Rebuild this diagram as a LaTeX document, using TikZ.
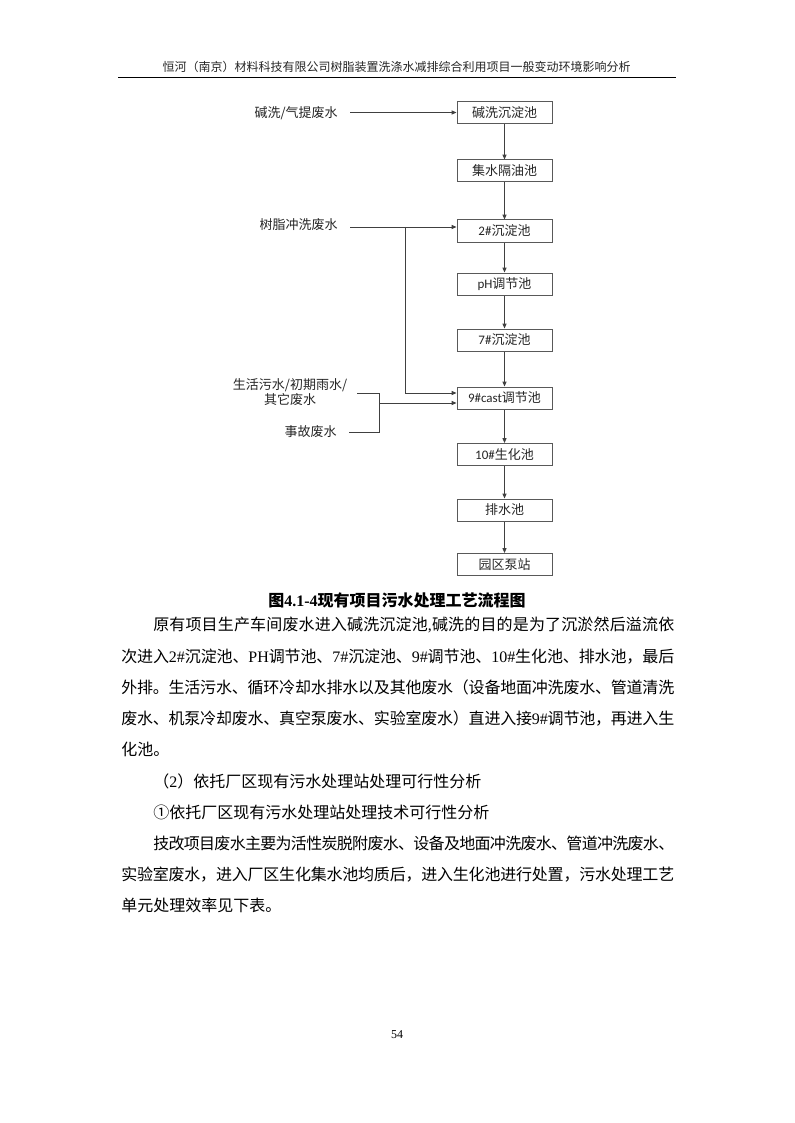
\documentclass[tikz,border=0pt]{standalone}
\usepackage{fontspec}
\setmainfont{Liberation Serif}
\newfontfamily\cjk{Noto Sans CJK SC}
\newfontfamily\calfont{Carlito}
\newcommand\lat{\rmfamily}
\usetikzlibrary{arrows.meta}
\makeatletter
\def\jst#1#2{\hbox to #1{\jst@first#2\jst@end}}
\def\jst@end{\jst@end}
\def\jst@first#1{\ifx\jst@end#1\else{#1}\expandafter\jst@next\fi}
\def\jst@next#1{\ifx\jst@end#1\else\hskip 0pt plus 1fil minus 1fil{#1}\expandafter\jst@next\fi}
\makeatother
\begin{document}
\begin{tikzpicture}[x=0.75pt,y=-0.75pt,
  pool/.style={draw=black!65, line width=0.75pt, minimum width=71.25pt, minimum height=16.5pt, inner sep=0pt, font=\cjk\fontsize{9.75}{11}\selectfont, text=black!85},
  lab/.style={inner sep=0pt, font=\cjk\fontsize{9.75}{11.25}\selectfont, text=black!85},
  flow/.style={draw=black!75, line width=0.6pt, -{Triangle[length=3.6pt,width=3pt]}},
  wire/.style={draw=black!75, line width=0.6pt},
  body/.style={anchor=west, inner sep=0pt, font=\cjk\fontsize{12}{14}\selectfont},
]
\fill[white] (0,0) rectangle (794,1123);
\useasboundingbox (0,0) rectangle (794,1123);

% header
\node[inner sep=0pt, font=\cjk\fontsize{9}{11}\selectfont, text=black!85] (hdr) at (396.5,67) {恒河（南京）材料科技有限公司树脂装置洗涤水减排综合利用项目一般变动环境影响分析};
\draw[line width=0.75pt] (118,78) -- (676,78);

% pools
\node[pool] (b1) at (504.5,112.5) {碱洗沉淀池};
\node[pool] (b2) at (504.5,171) {集水隔油池};
\node[pool] (b3) at (504.5,231) {{\calfont 2\#}沉淀池};
\node[pool] (b4) at (504.5,284) {{\calfont pH}调节池};
\node[pool] (b5) at (504.5,340) {{\calfont 7\#}沉淀池};
\node[pool] (b6) at (504.5,398) {{\calfont 9\#cast}调节池};
\node[pool] (b7) at (504.5,454.5) {{\calfont 10\#}生化池};
\node[pool] (b8) at (504.5,510) {排水池};
\node[pool] (b9) at (504.5,564.5) {园区泵站};

% source labels
\node[lab, anchor=east] (l1) at (338,113) {碱洗/气提废水};
\node[lab, anchor=east] (l2) at (338,225) {树脂冲洗废水};
\node[lab, align=center] (l3) at (290,392) {生活污水/初期雨水/\\其它废水};
\node[lab, anchor=east] (l4) at (337,432) {事故废水};

% main chain
\foreach \a/\b in {b1/b2,b2/b3,b3/b4,b4/b5,b5/b6,b6/b7,b7/b8,b8/b9}
  \draw[flow] (\a) -- (\b);

% inputs
\coordinate (s1) at (350,112.5);
\draw[flow] (s1) -- (s1 -| b1.west);
\coordinate (s2) at (350,227);
\draw[flow] (s2) -- (s2 -| b3.west);
\coordinate (j2) at (405,227);
\coordinate (e6a) at ([yshift=3.75pt]b6.west);
\coordinate (e6b) at ([yshift=-3.75pt]b6.west);
\draw[flow] (j2) |- (e6a);
\coordinate (s3) at (357,393);
\coordinate (s4) at (349,432);
\coordinate (k3) at (379,393);
\coordinate (k4) at (379,432);
\draw[wire] (s3) -- (k3) -- (k4) -- (s4);
\draw[flow] (k3 |- e6b) -- (e6b);

% caption
\node[inner sep=0pt, font=\fontsize{12}{14}\selectfont\bfseries] (cap) at (397,600) {{\cjk 图}4.1-4{\cjk 现有项目污水处理工艺流程图}};

% body text
\node[body] (p1) at (153,625) {\jst{390.75pt}{原有项目生产车间废水进入碱洗沉淀池{\lat ,}碱洗的目的是为了沉淤然后溢流依}};
\node[body] (p2) at (121,656.2) {\jst{414.75pt}{次进入{\lat 2\#}沉淀池、{\lat PH}调节池、{\lat 7\#}沉淀池、{\lat 9\#}调节池、{\lat 10\#}生化池、排水池，最后}};
\node[body] (p3) at (121,687.4) {\jst{414.75pt}{外排。生活污水、循环冷却水排水以及其他废水（设备地面冲洗废水、管道清洗}};
\node[body] (p4) at (121,718.6) {\jst{414.75pt}{废水、机泵冷却废水、真空泵废水、实验室废水）直进入接{\lat 9\#}调节池，再进入生}};
\node[body] (p5) at (121,749.8) {化池。};
\node[body] (p6) at (153,781) {（{\lat 2}）依托厂区现有污水处理站处理可行性分析};
\node[body] (p7) at (153,812.2) {①依托厂区现有污水处理站处理技术可行性分析};
\node[body] (p8) at (153,843.4) {\jst{390.75pt}{技改项目废水主要为活性炭脱附废水、设备及地面冲洗废水、管道冲洗废水、}};
\node[body] (p9) at (121,874.6) {\jst{414.75pt}{实验室废水，进入厂区生化集水池均质后，进入生化池进行处置，污水处理工艺}};
\node[body] (p10) at (121,905.8) {单元处理效率见下表。};

% page number
\node[inner sep=0pt, font=\fontsize{9}{11}\selectfont] (pg) at (397,1035) {54};
\end{tikzpicture}
\end{document}
